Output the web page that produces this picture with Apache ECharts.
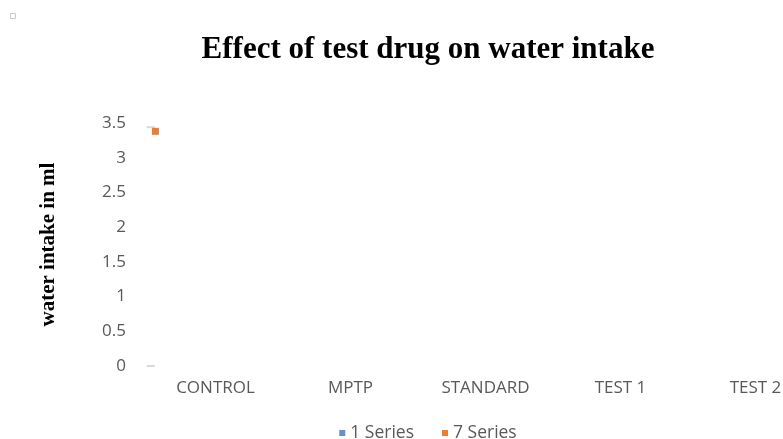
<!DOCTYPE html>
<html>
<head>
<meta charset="utf-8">
<script src="https://cdn.jsdelivr.net/npm/echarts@6/dist/echarts.min.js"></script>
<style>
  html, body { margin: 0; padding: 0; background: #fff; overflow: hidden; }
  /* the plot runs past the right edge of the picture, so the canvas is wider than the window */
  #chart { width: 856px; height: 439px; }
</style>
</head>
<body>
<div id="chart"></div>
<script>
// categories and values
const categories = ['CONTROL', 'MPTP', 'STANDARD', 'TEST 1', 'TEST 2']
const yTicks = [0, 0.5, 1, 1.5, 2, 2.5, 3, 3.5]
// only one point of the chart is visible, just right of the axis
const series1 = []                 // "1 Series" has nothing visible
const series7 = [[0.055, 3.38]]    // "7 Series"
// faint grey dashes near the axis
const greyDashes = [[0.02, 3.52], [0.02, 3.44], [0.02, 0]]

const labelFont = { fontFamily: 'Open Sans', fontSize: 17, color: '#595959' }

const myChart = echarts.init(document.getElementById('chart'))

const option = {
  animation: false,
  title: {
    text: 'Effect of test drug on water intake',
    left: 'center',
    top: 29,
    textStyle: {
      fontFamily: 'Liberation Serif',
      fontWeight: 'bold',
      fontSize: 31,
      color: '#000'
    }
  },
  legend: {
    top: 419,
    left: 'center',
    icon: 'rect',
    itemWidth: 6,
    itemHeight: 6,
    itemGap: 28,
    textStyle: Object.assign({}, labelFont, { fontSize: 17.5 }),
    data: ['1 Series', '7 Series']
  },
  grid: {
    left: 148,
    top: 123,
    width: 675,
    height: 243,
    containLabel: false
  },
  xAxis: [
    {
      type: 'category',
      data: categories,
      axisLine: { show: false },
      axisTick: { show: false },
      axisLabel: Object.assign({ margin: 14 }, labelFont)
    },
    {
      type: 'value',
      min: 0,
      max: categories.length,
      show: false
    }
  ],
  yAxis: {
    type: 'value',
    min: yTicks[0],
    max: yTicks[yTicks.length - 1],
    interval: 0.5,
    name: 'water intake in ml',
    nameLocation: 'middle',
    nameGap: 89,
    nameTextStyle: {
      fontFamily: 'Liberation Serif',
      fontWeight: 'bold',
      fontSize: 21,
      color: '#000'
    },
    axisLine: { show: false },
    axisTick: { show: false },
    splitLine: { show: false },
    axisLabel: Object.assign({ margin: 22 }, labelFont)
  },
  series: [
    {
      name: '1 Series',
      type: 'scatter',
      xAxisIndex: 1,
      itemStyle: { color: '#4472C4' },
      data: series1
    },
    {
      name: 'dashes',
      type: 'scatter',
      xAxisIndex: 1,
      symbol: 'rect',
      symbolSize: [8, 2],
      itemStyle: { color: '#d0d0d0' },
      silent: true,
      data: greyDashes
    },
    {
      name: '7 Series',
      type: 'scatter',
      xAxisIndex: 1,
      symbol: 'rect',
      symbolSize: 7,
      itemStyle: { color: '#ED7D31', opacity: 1 },
      data: series7
    }
  ],
  graphic: [
    {
      type: 'rect',
      left: 10,
      top: 13,
      shape: { width: 5, height: 5 },
      style: { fill: '#fff', stroke: '#c8c8c8', lineWidth: 1 }
    }
  ]
}
myChart.setOption(option)
</script>
</body>
</html>
